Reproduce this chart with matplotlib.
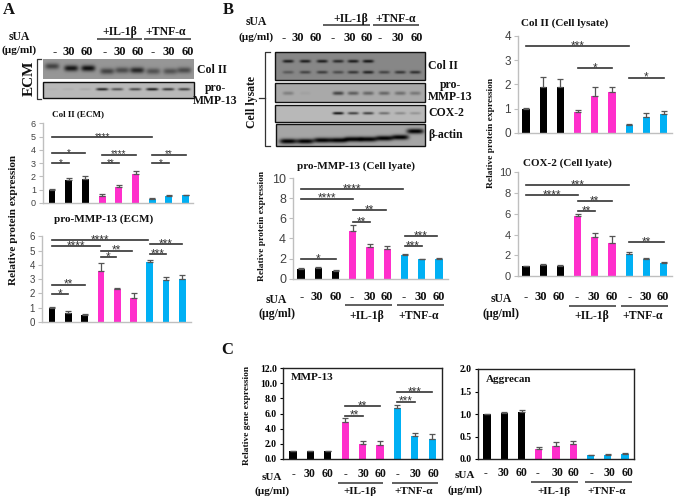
import numpy as np
import matplotlib
matplotlib.use('Agg')
import matplotlib.pyplot as plt
from matplotlib.patches import Rectangle

W, H = 675, 500
SERIF = 'Liberation Serif'
SANS = 'Liberation Sans'
BLACK, PINK, BLUE = '#000000', '#FF2FCB', '#00B0F4'
bar_colors = [BLACK]*3 + [PINK]*3 + [BLUE]*3

# panel A
a_col2 = [1.0, 1.7, 1.8, 0.55, 1.2, 2.15, 0.3, 0.5, 0.6]
a_col2_err = [0.02, 0.22, 0.22, 0.12, 0.12, 0.25, 0.06, 0.1, 0.04]
a_col2_sig = [(0, 6, 5.0, '****'), (0, 1.95, 3.75, '*'), (0, 1, 3.0, '*'),
              (3, 5, 3.65, '****'), (3, 4, 3.0, '**'), (6, 8, 3.65, '**'), (6, 7, 3.0, '*')]
a_mmp = [1.0, 0.65, 0.48, 3.55, 2.33, 1.68, 4.22, 2.92, 3.02]
a_mmp_err = [0.03, 0.15, 0.08, 0.55, 0.04, 0.38, 0.13, 0.25, 0.28]
a_mmp_sig = [(0, 5.9, 5.75, '****'), (0, 2.95, 5.33, '****'), (3, 4.9, 5.0, '**'), (3, 3.9, 4.55, '*'),
             (6, 8, 5.44, '***'), (6, 7, 4.77, '***'), (0, 2, 2.62, '**'), (0, 1, 1.96, '*')]

# panel B
b_mmp = [1.0, 1.07, 0.8, 4.75, 3.15, 2.95, 2.35, 1.93, 1.93]
b_mmp_err = [0.03, 0.05, 0.07, 0.55, 0.25, 0.25, 0.13, 0.04, 0.08]
b_mmp_sig = [(0, 5.9, 8.87, '****'), (0, 3, 7.95, '****'), (3, 4.95, 6.8, '**'), (3, 4, 5.66, '**'),
             (6, 7.9, 4.24, '***'), (6, 7, 3.28, '***'), (0, 2, 1.99, '*')]
b_col2 = [1.0, 1.87, 1.9, 0.87, 1.53, 1.67, 0.3, 0.67, 0.78]
b_col2_err = [0.01, 0.45, 0.33, 0.06, 0.38, 0.2, 0.06, 0.15, 0.13]
b_col2_sig = [(0, 6, 3.57, '***'), (3, 5, 2.66, '*'), (6, 8, 2.28, '*')]
b_cox = [1.0, 1.1, 0.98, 5.8, 3.8, 3.2, 2.1, 1.63, 1.25]
b_cox_err = [0.02, 0.12, 0.1, 0.13, 0.35, 0.62, 0.27, 0.17, 0.08]
b_cox_sig = [(0, 6, 8.72, '***'), (0, 3, 7.8, '****'), (3, 5, 7.2, '**'), (3, 4, 6.26, '**'), (6, 8, 3.32, '**')]

# panel C
c_mmp = [1.0, 1.05, 1.0, 4.9, 2.0, 1.9, 6.75, 3.0, 2.65]
c_mmp_err = [0.03, 0.03, 0.05, 0.5, 0.4, 0.5, 0.4, 0.45, 0.6]
c_mmp_sig = [(6, 8, 8.85, '***'), (6, 7, 7.58, '***'), (3, 5, 7.0, '**'), (3, 4, 5.73, '**')]
c_agg = [1.0, 1.03, 1.05, 0.22, 0.3, 0.33, 0.08, 0.1, 0.11]
c_agg_err = [0.01, 0.02, 0.03, 0.04, 0.07, 0.07, 0.01, 0.01, 0.02]

# blot band strength per lane, 0 to 1
a_blot_col2 = [0.55, 0.85, 0.9, 0.55, 0.5, 0.75, 0.45, 0.45, 0.5]
a_blot_mmp = [0.03, 0.05, 0.08, 0.8, 0.55, 0.6, 0.85, 0.7, 0.65]
b_blot_col2_up = [0.8, 0.8, 0.8, 0.7, 0.8, 0.85, 0, 0, 0]
b_blot_col2_lo = [0.35, 0.5, 0.55, 0.45, 0.6, 0.75, 0.5, 0.6, 0.65]
b_blot_mmp = [0.25, 0.05, 0, 0.6, 0.45, 0.4, 0.4, 0.35, 0.3]
b_blot_cox = [0, 0, 0, 0.9, 0.65, 0.65, 0.4, 0.25, 0.2]
b_blot_actin = [1, 1, 1, 1, 1, 1, 1, 1, 1]

dose_labels = ['-', '30', '60'] * 3

fig = plt.figure(figsize=(W/100, H/100), dpi=100)
ov = fig.add_axes([0, 0, 1, 1], zorder=0)
ov.set_axis_off()


def txt(x, y, s, size=8, ha='center', rot=0, family=SERIF, weight='bold', color='#111111'):
    ov.text(x, y, s, fontsize=size, ha=ha, va='center', rotation=rot,
            family=family, weight=weight, color=color)


def hline(x0, x1, y, color='#444444', lw=1.2):
    ov.plot([x0, x1], [y, y], color=color, lw=lw, solid_capstyle='butt')


def bars(box, b0, step, vals, errs, ymax, yticks, sig=(), style='excel', tick_size=7, fmt=None, star_size=8.5):
    L, T, R, B = box
    ax = fig.add_axes([L/W, 1-B/H, (R-L)/W, (B-T)/H], zorder=2)
    ax.patch.set_alpha(0)
    x = np.arange(9)
    ax.bar(x, vals, width=0.41, color=bar_colors)
    for i in x:
        ax.errorbar(i, vals[i], yerr=[[0], [errs[i]]], color='#555555', lw=0.9, capsize=2, capthick=0.9)
    ax.set_xlim((L-b0)/step, (R-b0)/step)
    ax.set_ylim(0, ymax)
    ax.set_xticks([])
    ax.set_yticks(yticks)
    if fmt:
        ax.set_yticklabels([fmt % t for t in yticks])
    for x0, x1, y, stars in sig:
        ax.plot([x0, x1], [y, y], color='#333333', lw=1.2, clip_on=False)
        # the asterisk sits high in its line box, pull it back down to the bracket
        ax.annotate(stars, ((x0+x1)/2, y), xytext=(0, 1-0.65*star_size), textcoords='offset points', ha='center',
                    va='bottom', fontsize=star_size, family=SANS, color='#333333', annotation_clip=False)
    ax.spines['top'].set_visible(False)
    ax.spines['right'].set_visible(False)
    if style == 'excel':
        for s in ['left', 'bottom']:
            ax.spines[s].set_color('#BFBFBF')
            ax.spines[s].set_linewidth(1.0)
        ax.tick_params(axis='y', length=3, width=0.8, color='#BFBFBF', pad=2,
                       labelsize=tick_size, labelcolor='#404040')
        for t in ax.get_yticklabels():
            t.set_family(SANS)
    else:
        for s in ax.spines.values():
            s.set_visible(True)
            s.set_color('#222222')
            s.set_linewidth(1.0)
        ax.tick_params(axis='y', length=2.5, width=0.8, pad=2, labelsize=tick_size)
        for t in ax.get_yticklabels():
            t.set_family(SERIF)
            t.set_weight('bold')
    return ax


def blot(box, bg, bands, sx=6.0, sy=1.8, frame=True):
    # bands: list of (lane x positions, y or list of y, strengths)
    L, T, R, B = box
    xs, ys = np.meshgrid(np.arange(L, R, 0.5), np.arange(T, B, 0.5))
    img = np.full(xs.shape, float(bg))
    for lanes, ypos, strength in bands:
        if np.isscalar(ypos):
            ypos = [ypos]*len(lanes)
        for lx, ly, st in zip(lanes, ypos, strength):
            img -= bg*st*np.exp(-((xs-lx)/sx)**4 - ((ys-ly)/sy)**2)
    img = np.clip(img, 0, 255)
    ov.imshow(img, extent=(L, R, B, T), cmap='gray', vmin=0, vmax=255, aspect='auto', interpolation='bilinear')
    if frame:
        ov.add_patch(Rectangle((L, T), R-L, B-T, fill=False, ec='#111111', lw=1.0))


def curly(x_out, x_in, y0, y1, tip=None):
    ov.plot([x_in, x_out, x_out, x_in], [y0, y0, y1, y1], color='#333333', lw=0.9)
    if tip:
        ov.plot([x_out, x_out-6], [tip, tip], color='#333333', lw=0.9)


def doses(xs, y, size=9):
    for xp, s in zip(xs, dose_labels):
        txt(xp, y, s, size=size)


def treat_labels(x_il, x_tnf, y_txt, il_line, tnf_line, y_line, size=8.5):
    txt(x_il, y_txt, '+IL-1β', size=size)
    txt(x_tnf, y_txt, '+TNF-α', size=size)
    hline(il_line[0], il_line[1], y_line)
    hline(tnf_line[0], tnf_line[1], y_line)


# --- A ---
txt(9, 10, 'A', size=12)
txt(19, 37, 'sUA', size=8.5)
txt(19, 50, '(µg/ml)', size=8)
doses([55, 69, 87, 105, 120, 138, 153, 169, 188], 52)
treat_labels(120, 166, 32, (97, 142), (144, 191), 39)
blot((43, 59, 194, 79), 150, [([52, 71, 88, 107, 122, 137, 153, 170, 184],
                               [66, 68, 68, 71, 70, 70, 71, 71, 70], a_blot_col2)], sx=7, sy=3, frame=False)
blot((43, 82, 194, 98), 185, [([52, 68, 85, 102, 117, 135, 152, 168, 184], 89, a_blot_mmp)], sx=6, sy=1.3)
txt(29, 78, 'ECM', size=11, rot=90)
curly(37, 41, 59, 99)
txt(197, 70, 'Col II', size=8.5, ha='left')
txt(215, 88, 'pro-', size=8.5)
txt(215, 101, 'MMP-13', size=8.5)
txt(78, 114, 'Col II (ECM)', size=6.5)
txt(104, 219, 'pro-MMP-13 (ECM)', size=8)
txt(14, 220, 'Relative protein expression', size=8.1, rot=90)
bars((43, 123.4, 193, 203), 52, 16.7, a_col2, a_col2_err, 6, range(7), a_col2_sig, tick_size=6.5, star_size=7)
bars((42, 236.3, 191, 322), 52, 16.3, a_mmp, a_mmp_err, 6, range(7), a_mmp_sig, tick_size=7)

# --- B ---
txt(228, 10, 'B', size=12)
txt(256, 22, 'sUA', size=8.5)
txt(256, 37, '(µg/ml)', size=8)
doses([284, 298, 316, 333, 350, 367, 380, 398, 417], 38)
treat_labels(351, 396, 19, (323, 370), (373, 419), 25)
b_lanes = [288, 305, 322, 338, 353, 368, 384, 400, 415]
blot((275, 52, 425, 80), 135, [(b_lanes, 61, b_blot_col2_up), (b_lanes, 72, b_blot_col2_lo)], sx=5.5, sy=1.5)
blot((275, 83, 425, 102), 170, [(b_lanes, 93, b_blot_mmp)], sx=5.5, sy=1.8)
blot((275, 105, 425, 122), 185, [(b_lanes, 113, b_blot_cox)], sx=5.5, sy=1.3)
blot((276, 124, 425, 146), 165, [(b_lanes, [141, 141, 140, 140, 139, 139, 138, 137, 131], b_blot_actin)], sx=8.5, sy=2.5)
txt(252, 102, 'Cell lysate', size=8.5, rot=90)
curly(265, 270, 52, 146, tip=98)
txt(428, 66, 'Col II', size=8.5, ha='left')
txt(450, 85, 'pro-', size=8.5)
txt(450, 97, 'MMP-13', size=8.5)
txt(428, 113, 'COX-2', size=8.5, ha='left')
txt(428, 135, 'β-actin', size=8.5, ha='left')

txt(356, 166, 'pro-MMP-13 (Cell lyate)', size=8)
txt(262, 226, 'Relative protein expression', size=6.8, rot=90)
bars((293, 178, 448, 278.7), 301, 17.25, b_mmp, b_mmp_err, 10, range(0, 11, 2), b_mmp_sig, tick_size=9)
txt(276, 300, 'sUA', size=8.5)
txt(277, 314, '(µg/ml)', size=8.5)
doses([302, 317, 336, 352, 370, 387, 404, 421, 439], 297)
treat_labels(367, 419, 316, (345, 392), (397, 444), 305)

txt(565, 23, 'Col II (Cell lysate)', size=8)
txt(567, 163, 'COX-2 (Cell lyate)', size=8)
txt(491, 133, 'Relative protein expression', size=6.8, rot=90)
bars((518, 36, 672, 132.7), 526, 17.2, b_col2, b_col2_err, 4, range(5), b_col2_sig, tick_size=8.5)
bars((518, 172, 672, 276.3), 526, 17.2, b_cox, b_cox_err, 10, range(0, 11, 2), b_cox_sig, tick_size=8)
txt(501, 299, 'sUA', size=8.5)
txt(501, 314, '(µg/ml)', size=8.5)
doses([526, 541, 559, 577, 594, 612, 630, 646, 663], 297)
treat_labels(592, 643, 316, (569, 616), (621, 668), 306)

# --- C ---
txt(227, 350, 'C', size=12)
txt(247, 415, 'Relative gene expression', size=6.8, rot=90)
bars((283, 368, 442, 459), 293, 17.4, c_mmp, c_mmp_err, 12, range(0, 13, 2), c_mmp_sig,
     style='box', tick_size=7, fmt='%.1f')
txt(291, 377, 'MMP-13', size=8, ha='left')
txt(272, 477, 'sUA', size=8)
txt(272, 491, '(µg/ml)', size=8)
doses([293, 310, 328, 345, 364, 381, 397, 416, 434], 474, size=8.5)
treat_labels(360, 414, 492, (338, 383), (392, 438), 483, size=8)

bars((478, 369, 634, 459), 487, 17.25, c_agg, c_agg_err, 2, [0, 0.5, 1, 1.5, 2],
     style='box', tick_size=7, fmt='%.1f')
txt(486, 380, 'Aggrecan', size=8, ha='left')
txt(465, 476, 'sUA', size=8)
txt(465, 490, '(µg/ml)', size=8)
doses([485, 504, 522, 538, 557, 574, 591, 609, 628], 473, size=8.5)
treat_labels(554, 607, 491, (531, 578), (585, 632), 482, size=8)

ov.set_xlim(0, W)
ov.set_ylim(H, 0)
fig.savefig('out.png', dpi=100)
